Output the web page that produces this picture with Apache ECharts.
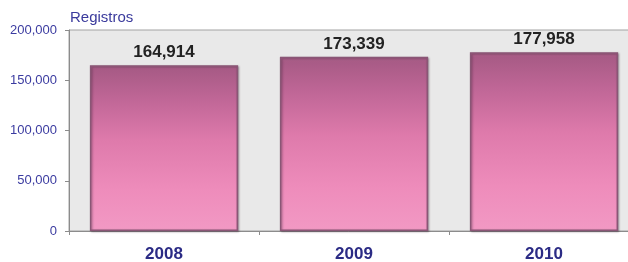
<!DOCTYPE html>
<html>
<head>
<meta charset="utf-8">
<script src="https://cdn.jsdelivr.net/npm/echarts@6/dist/echarts.min.js"></script>
<style>
  html, body { margin: 0; padding: 0; background: #fff; }
  #chart { width: 628px; height: 262px; }
</style>
</head>
<body>
<div id="chart"></div>
<script>
// data
const years = ['2008', '2009', '2010']
const registros = [164914, 173339, 177958]
const yTicks = [0, 50000, 100000, 150000, 200000]

const fmt = v => v.toLocaleString('en-US')

const chart = echarts.init(document.getElementById('chart'))

chart.setOption({
  animation: false,
  textStyle: { fontFamily: 'Liberation Sans, Arial, sans-serif' },
  grid: {
    left: 69,
    width: 570, // the plot runs past the right edge in the original
    top: 30,
    bottom: 31,
    outerBoundsMode: 'none',
    containLabel: false,
    show: true,
    backgroundColor: '#e9e9e9',
    borderColor: '#a3a3a3',
    borderWidth: 1,
  },
  graphic: [
    {
      type: 'text',
      left: 70,
      top: 10,
      style: {
        text: 'Registros',
        fill: '#3a3a9c',
        font: '15px "Liberation Sans", Arial, sans-serif',
      },
    },
  ],
  xAxis: {
    type: 'category',
    data: years,
    axisLine: { lineStyle: { color: '#8c8c8c', width: 1 } },
    axisTick: { show: true, length: 4, lineStyle: { color: '#8c8c8c' } },
    axisLabel: {
      margin: 15,
      color: '#2b2b85',
      fontWeight: 'bold',
      fontSize: 17,
    },
  },
  yAxis: {
    type: 'value',
    min: yTicks[0],
    max: yTicks[yTicks.length - 1],
    interval: yTicks[1] - yTicks[0],
    axisLine: { show: true, lineStyle: { color: '#8c8c8c', width: 1 } },
    axisTick: { show: true, length: 4, lineStyle: { color: '#8c8c8c' } },
    splitLine: { show: false },
    axisLabel: {
      margin: 12,
      color: '#3b3ba0',
      fontSize: 13,
      formatter: v => fmt(v),
    },
  },
  series: [
    {
      type: 'bar',
      data: registros,
      barCategoryGap: '22%',
      itemStyle: {
        color: new echarts.graphic.LinearGradient(0, 0, 0, 1, [
          { offset: 0, color: '#b76a94' },
          { offset: 0.03, color: '#a85b86' },
          { offset: 0.2, color: '#bf6696' },
          { offset: 0.45, color: '#de7aab' },
          { offset: 0.75, color: '#ee8cbb' },
          { offset: 1, color: '#f299c4' },
        ]),
        borderColor: '#8a5676',
        borderWidth: 1.5,
        shadowColor: 'rgba(60, 30, 50, 0.45)',
        shadowBlur: 2,
        shadowOffsetX: 1,
        shadowOffsetY: 1,
      },
      label: {
        show: true,
        position: 'top',
        distance: 4,
        color: '#222',
        fontWeight: 'bold',
        fontSize: 17,
        formatter: p => fmt(p.value),
      },
    },
  ],
})
</script>
</body>
</html>
